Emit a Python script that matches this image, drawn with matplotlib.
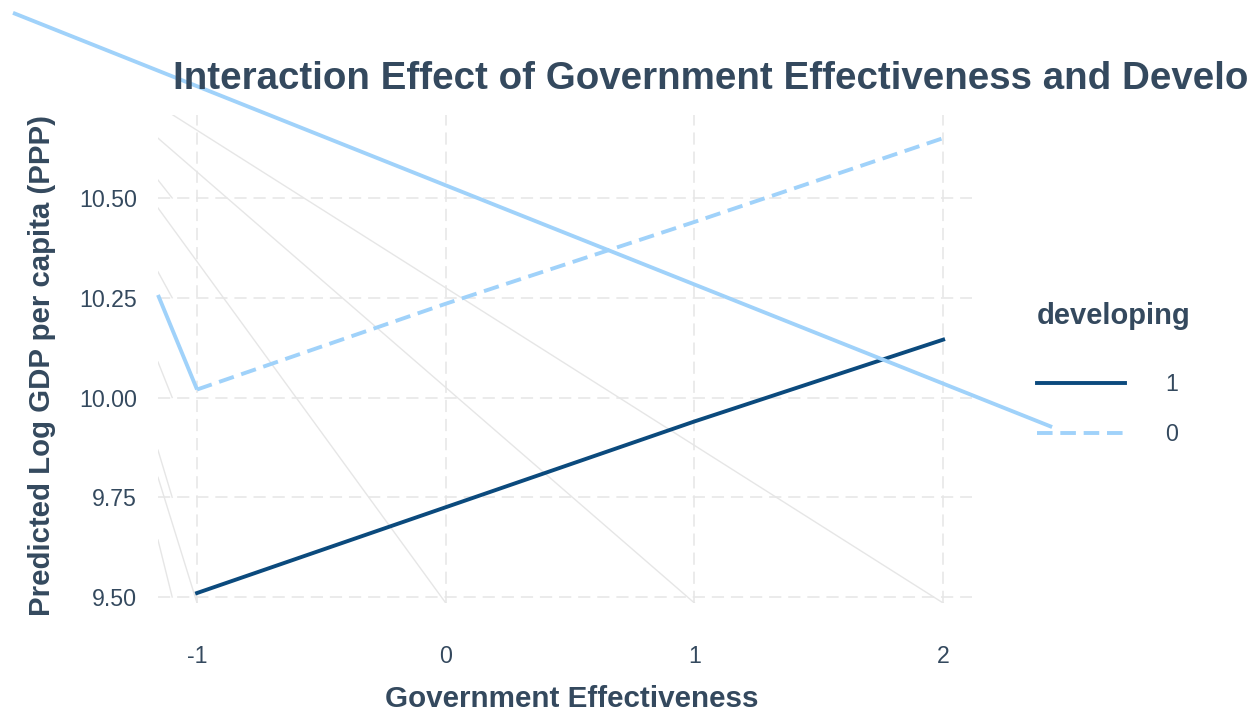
import matplotlib
matplotlib.use("Agg")
import matplotlib.pyplot as plt

plt.rcParams['font.family'] = ['Liberation Sans', 'DejaVu Sans']

# predicted values
gov_eff = [-1, 0, 1, 2]
pred_dev1 = [9.51, 9.725, 9.94, 10.145]
pred_dev0 = [10.02, 10.235, 10.44, 10.65]
groups = ["1", "0"]

# stray segments visible in the rendered panel (data coords)
glitch_x = [(-1.097, 2), (-1.157, 1), (-1.157, 0), (-1.157, -1),
            (-1.157, -1.10), (-1.157, -1.10), (-1.157, -1.10),
            (-1.157, -1.10), (-1.157, -1.10)]
glitch_y = [(10.708, 9.485), (10.650, 9.485), (10.475, 9.485), (9.80, 9.485),
            (10.545, 10.50), (10.315, 10.25), (10.089, 10.00),
            (9.868, 9.75), (9.643, 9.50)]
stray_blue_x = [(-1.74, 2.438), (-1.157, -1)]
stray_blue_y = [(10.964, 9.926), (10.257, 10.02)]

x_ticks = [-1, 0, 1, 2]
y_ticks = [9.50, 9.75, 10.00, 10.25, 10.50]

dark = "#0b4a7d"
light = "#a0d2fa"
txt = "#34495e"

fig = plt.figure(figsize=(12.5, 7.11), dpi=100)
ax = fig.add_axes([158 / 1250, 108 / 711, 814 / 1250, 488 / 711])

for xs, ys in zip(glitch_x, glitch_y):
    ax.plot(xs, ys, color="#e6e6e6", lw=1.0, zorder=1)

l1, = ax.plot(gov_eff, pred_dev1, color=dark, lw=2.8, zorder=3)
l0, = ax.plot(gov_eff, pred_dev0, color=light, lw=2.8, ls=(0, (4, 2)), zorder=3)
for xs, ys in zip(stray_blue_x, stray_blue_y):
    ax.plot(xs, ys, color=light, lw=2.8, zorder=3, clip_on=False,
            solid_capstyle="butt")

ax.set_xlim(-1.157, 2.116)
ax.set_ylim(9.485, 10.708)
ax.set_xticks(x_ticks)
ax.set_xticklabels([str(v) for v in x_ticks])
ax.set_yticks(y_ticks)
ax.set_yticklabels([f"{v:.2f}" for v in y_ticks])
ax.grid(True, color="#e6e6e6", lw=1.1, ls=(0, (8, 4.5)), zorder=0)
ax.set_axisbelow(True)
for s in ax.spines.values():
    s.set_visible(False)
ax.tick_params(axis="both", length=0, labelsize=16.7, labelcolor=txt)
ax.tick_params(axis="x", pad=30)
ax.tick_params(axis="y", pad=15)

# title runs past the right edge in the original render
fig.text(173 / 1250, 1 - 89 / 711,
         "Interaction Effect of Government Effectiveness and Developing Status",
         fontsize=27.7, fontweight="bold", color=txt, va="baseline", ha="left")
fig.text(42 / 1250, 1 - 366 / 711, "Predicted Log GDP per capita (PPP)",
         fontsize=21.2, fontweight="bold", color=txt, rotation=90,
         va="center", ha="center")
fig.text(572 / 1250, 1 - 707 / 711, "Government Effectiveness",
         fontsize=21.3, fontweight="bold", color=txt, va="baseline", ha="center")

leg = ax.legend([l1, l0], groups, title="developing", frameon=False,
                loc="upper left", bbox_to_anchor=(1025 / 1250, 1 - 290 / 711),
                bbox_transform=fig.transFigure, fontsize=16.7,
                handlelength=3.8, handletextpad=1.75, labelspacing=1.2,
                borderpad=0, alignment="left")
leg._legend_box.sep = 31
leg.get_title().set_fontweight("bold")
leg.get_title().set_fontsize(21)
leg.get_title().set_color(txt)
for t in leg.get_texts():
    t.set_color(txt)

fig.savefig("out.png", dpi=100)
